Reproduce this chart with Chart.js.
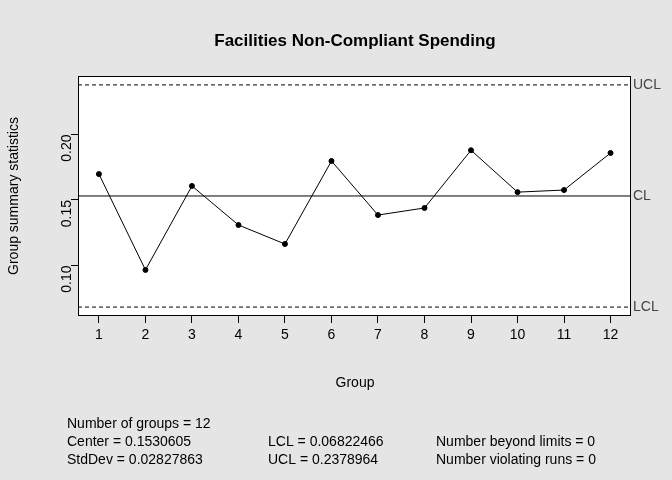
<!DOCTYPE html>
<html>
<head>
<script src="https://cdn.jsdelivr.net/npm/chart.js@4"></script>
<style>body{margin:0;background:#e5e5e5}</style>
</head>
<body>
<div style="width:672px;height:480px"><canvas id="qcc" width="672" height="480"></canvas></div>
<script>
var groups = [1,2,3,4,5,6,7,8,9,10,11,12];
var stats = [0.1698,0.0966,0.1607,0.1309,0.1164,0.1798,0.1385,0.1439,0.1880,0.1560,0.1576,0.1859];
var center = 0.1530605;
var lcl = 0.06822466;
var ucl = 0.2378964;
var yTicks = [0.10,0.15,0.20];
var infoLines = [
    ["Number of groups = 12", "", ""],
    ["Center = 0.1530605", "LCL = 0.06822466", "Number beyond limits = 0"],
    ["StdDev = 0.02827863", "UCL = 0.2378964", "Number violating runs = 0"]
];
var font = "Liberation Sans, Arial, sans-serif";

function hline(v, dash){
    return {data:[{x:0.55,y:v},{x:12.44,y:v}], borderColor:'#000', borderWidth:1,
        borderDash:dash, pointRadius:0, fill:false};
}

var decor = {
    id:'decor',
    beforeDraw: function(c){
        var ctx = c.ctx, a = c.chartArea;
        ctx.save();
        ctx.fillStyle = '#e5e5e5';
        ctx.fillRect(0,0,c.width,c.height);
        ctx.fillStyle = '#fff';
        ctx.fillRect(a.left,a.top,a.right-a.left,a.bottom-a.top);
        ctx.restore();
    },
    afterDraw: function(c){
        var ctx = c.ctx, a = c.chartArea, y = c.scales.y;
        ctx.save();
        ctx.strokeStyle = '#000'; ctx.lineWidth = 1;
        ctx.strokeRect(a.left+0.5,a.top+0.5,a.right-a.left-1,a.bottom-a.top-1);
        ctx.fillStyle = '#000';
        ctx.textAlign = 'center'; ctx.textBaseline = 'middle';
        ctx.font = 'bold 17px ' + font;
        ctx.fillText('Facilities Non-Compliant Spending', 355, 41);
        ctx.font = '14px ' + font;
        ctx.fillText('Group', 355, 383);
        ctx.translate(14, 196); ctx.rotate(-Math.PI/2);
        ctx.fillText('Group summary statistics', 0, 0);
        ctx.setTransform(c.currentDevicePixelRatio,0,0,c.currentDevicePixelRatio,0,0);
        ctx.textAlign = 'left';
        ctx.fillStyle = '#444';
        [['UCL',ucl],['CL',center],['LCL',lcl]].forEach(function(l){
            ctx.fillText(l[0], a.right+2, y.getPixelForValue(l[1]));
        });
        ctx.fillStyle = '#000';
        var xs = [67, 268, 436];
        infoLines.forEach(function(row, i){
            row.forEach(function(t, j){ ctx.fillText(t, xs[j], 424 + i*18); });
        });
        ctx.restore();
    }
};

new Chart(document.getElementById('qcc').getContext('2d'), {
    type: 'line',
    data: {
        datasets: [
            {data: groups.map(function(g,i){return {x:g,y:stats[i]};}),
             borderColor:'#000', borderWidth:1, pointRadius:2.5,
             pointBackgroundColor:'#000', pointBorderColor:'#000'},
            hline(center, []), hline(ucl, [4,3]), hline(lcl, [4,3])
        ]
    },
    options: {
        responsive: false, animation: false,
        layout: {padding:{top:76, right:41, bottom:124, left:0}},
        plugins: {legend:{display:false}, tooltip:{enabled:false}},
        scales: {
            x: {type:'linear', min:0.55, max:12.44,
                afterBuildTicks: function(s){ s.ticks = groups.map(function(g){return {value:g};}); },
                afterFit: function(s){ s.height = 40; },
                grid:{drawOnChartArea:false, tickLength:7, color:'#000'},
                border:{display:false},
                ticks:{color:'#000', font:{family:font, size:14}, padding:4, maxRotation:0}},
            y: {min:0.0614, max:0.2447,
                afterBuildTicks: function(s){ s.ticks = yTicks.map(function(v){return {value:v};}); },
                afterFit: function(s){ s.width = 78; },
                grid:{drawOnChartArea:false, tickLength:7, color:'#000'},
                border:{display:false},
                ticks:{color:'#000', font:{family:font, size:14}, minRotation:90, maxRotation:90, padding:4,
                    callback:function(v){return v.toFixed(2);}}}
        }
    },
    plugins: [decor]
});
</script>
</body>
</html>
